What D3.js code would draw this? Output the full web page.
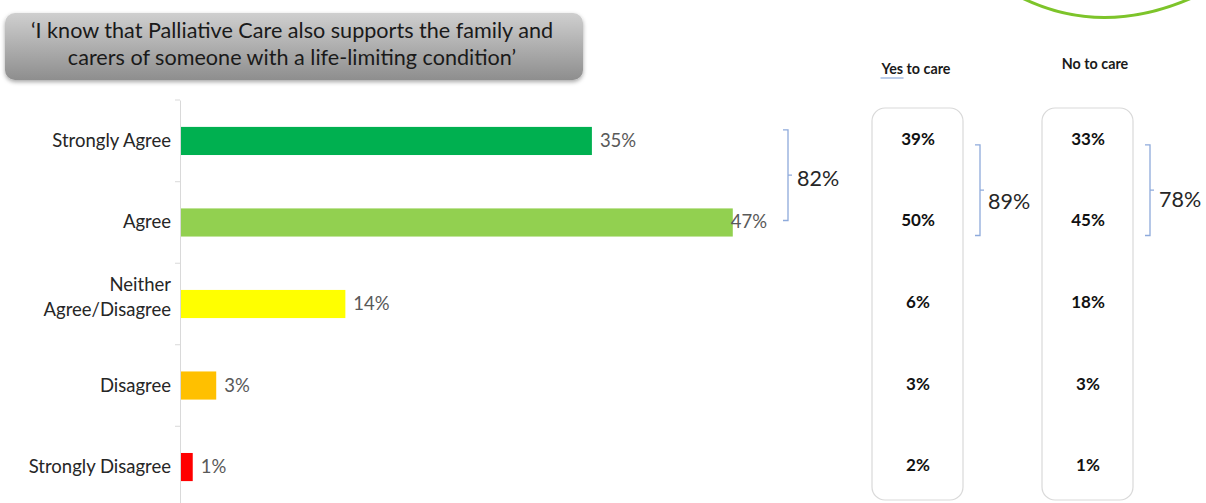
<!DOCTYPE html>
<html>
<head>
<meta charset="utf-8">
<script src="https://cdn.jsdelivr.net/npm/d3@7"></script>
<style>
  body { margin: 0; background: #fff; }
  svg { display: block; font-family: Lato, 'Open Sans', sans-serif; }
</style>
</head>
<body>
<div id="chart"></div>
<script>
// Data
var categories = ['Strongly Agree', 'Agree', 'Neither Agree/Disagree', 'Disagree', 'Strongly Disagree'];
var overall = [35, 47, 14, 3, 1];
var yesToCare = [39, 50, 6, 3, 2];
var noToCare = [33, 45, 18, 3, 1];
var barColors = ['#00b050', '#92d050', '#ffff00', '#ffc000', '#ff0000'];
var titleLines = ['\u2018I know that Palliative Care also supports the family and',
  'carers of someone with a life-limiting condition\u2019'];

var svgWidth = 1206;
var svgHeight = 503;

var svg = d3.select('#chart').append('svg')
  .attr('width', svgWidth)
  .attr('height', svgHeight);

var defs = svg.append('defs');
var grad = defs.append('linearGradient')
  .attr('id', 'titleGrad')
  .attr('x1', 0).attr('y1', 0).attr('x2', 0).attr('y2', 1);
grad.append('stop').attr('offset', '0%').attr('stop-color', '#cfcfcf');
grad.append('stop').attr('offset', '100%').attr('stop-color', '#8e8e8e');

var shadow = defs.append('filter').attr('id', 'shadow')
  .attr('x', '-5%').attr('y', '-20%').attr('width', '110%').attr('height', '150%');
shadow.append('feDropShadow')
  .attr('dx', 0).attr('dy', 2).attr('stdDeviation', 2)
  .attr('flood-color', '#000').attr('flood-opacity', 0.35);

// scales
var x = d3.scaleLinear().domain([0, 50]).range([181, 768]);
var y = d3.scaleBand().domain(categories).range([100, 508]).paddingInner(0.655).paddingOuter(0.33);
var yc = d => y(d) + y.bandwidth() / 2;

// title box
svg.append('rect')
  .attr('x', 5).attr('y', 13)
  .attr('width', 578).attr('height', 67)
  .attr('rx', 10)
  .attr('fill', 'url(#titleGrad)')
  .attr('filter', 'url(#shadow)');

svg.append('g').selectAll('text')
  .data(titleLines)
  .enter()
  .append('text')
  .attr('x', 292)
  .attr('y', (d, i) => 38 + i * 27)
  .attr('text-anchor', 'middle')
  .attr('font-size', '21.6px')
  .attr('fill', '#1a1a1a')
  .text(d => d);

// green arc decoration
svg.append('path')
  .attr('d', 'M1020,-3 Q1102,38 1194,-3')
  .attr('fill', 'none')
  .attr('stroke', '#7dc42a')
  .attr('stroke-width', 3);

// y axis
var leftAxis = d3.axisLeft(y).tickSize(0).tickFormat('');
var yAxis = svg.append('g')
  .attr('transform', 'translate(180,0)')
  .call(leftAxis);
yAxis.select('.domain').attr('stroke', '#d9d9d9');

// boundary ticks
var bounds = [100].concat(categories.slice(1).map(c => y(c) - y.step() * y.paddingInner() / 2));
svg.append('g').selectAll('line')
  .data(bounds)
  .enter()
  .append('line')
  .attr('x1', 175).attr('x2', 180)
  .attr('y1', d => d).attr('y2', d => d)
  .attr('stroke', '#d9d9d9');

// category labels
var catLabels = svg.append('g').selectAll('text')
  .data(categories)
  .enter()
  .append('text')
  .attr('text-anchor', 'end')
  .attr('font-size', '18.5px')
  .attr('fill', '#262626');

catLabels.each(function (d) {
  var t = d3.select(this);
  if (d === 'Neither Agree/Disagree') {
    t.append('tspan').attr('x', 171).attr('y', yc(d) - 13).text('Neither');
    t.append('tspan').attr('x', 171).attr('y', yc(d) + 12).text('Agree/Disagree');
  } else {
    t.attr('x', 171).attr('y', yc(d) + 6).text(d);
  }
});

// bars
svg.append('g').selectAll('rect')
  .data(overall)
  .enter()
  .append('rect')
  .attr('x', x(0))
  .attr('y', (d, i) => y(categories[i]))
  .attr('width', d => x(d) - x(0))
  .attr('height', y.bandwidth())
  .attr('fill', (d, i) => barColors[i]);

// bar value labels
svg.append('g').selectAll('text')
  .data(overall)
  .enter()
  .append('text')
  .attr('x', d => d === d3.max(overall) ? x(d) - 2 : x(d) + 8)
  .attr('y', (d, i) => yc(categories[i]) + 6)
  .attr('font-size', '18.5px')
  .attr('fill', '#595959')
  .text(d => d + '%');

// bracket helper
function bracket(xPos, top, bottom, total, labelX, labelY) {
  var mid = (top + bottom) / 2;
  svg.append('path')
    .attr('d', `M${xPos - 5},${top} H${xPos} V${bottom} H${xPos - 5} M${xPos},${mid} H${xPos + 4}`)
    .attr('fill', 'none')
    .attr('stroke', '#8eaadb')
    .attr('stroke-width', 1.3);
  svg.append('text')
    .attr('x', labelX)
    .attr('y', labelY)
    .attr('font-size', '21.5px')
    .attr('fill', '#262626')
    .text(total + '%');
}

var yTop = y(categories[0]);
var yAgree = yc(categories[1]);
bracket(788, yTop + 3, yAgree - 2, overall[0] + overall[1], 797, yTop + 59);
bracket(980, yTop + 18, yAgree + 13, yesToCare[0] + yesToCare[1], 988, yTop + 82);
bracket(1150, yTop + 18, yAgree + 13, noToCare[0] + noToCare[1], 1159, yTop + 80);

// subgroup columns
function column(values, header, cx, hx, headerY, underline) {
  svg.append('rect')
    .attr('x', cx - 45).attr('y', 108)
    .attr('width', 91).attr('height', 392)
    .attr('rx', 13)
    .attr('fill', '#fff')
    .attr('stroke', '#d9d9d9')
    .attr('stroke-width', 1.2);

  var h = svg.append('text')
    .attr('x', hx)
    .attr('y', headerY)
    .attr('text-anchor', 'middle')
    .attr('font-size', '14.3px')
    .attr('font-weight', 'bold')
    .attr('fill', '#1a1a1a')
    .text(header);

  if (underline) {
    var bb = h.node().getBBox();
    svg.append('line')
      .attr('x1', bb.x).attr('x2', bb.x + 23)
      .attr('y1', headerY + 4).attr('y2', headerY + 4)
      .attr('stroke', '#8eaadb')
      .attr('stroke-width', 1.2);
  }

  svg.append('g').selectAll('text')
    .data(values)
    .enter()
    .append('text')
    .attr('x', cx + 1)
    .attr('y', (d, i) => yc(categories[i]) + 4)
    .attr('text-anchor', 'middle')
    .attr('font-size', '17px')
    .attr('font-weight', 'bold')
    .attr('fill', '#111')
    .text(d => d + '%');
}

column(yesToCare, 'Yes to care', 917, 916, 74, true);
column(noToCare, 'No to care', 1087, 1095, 69, false);
</script>
</body>
</html>
